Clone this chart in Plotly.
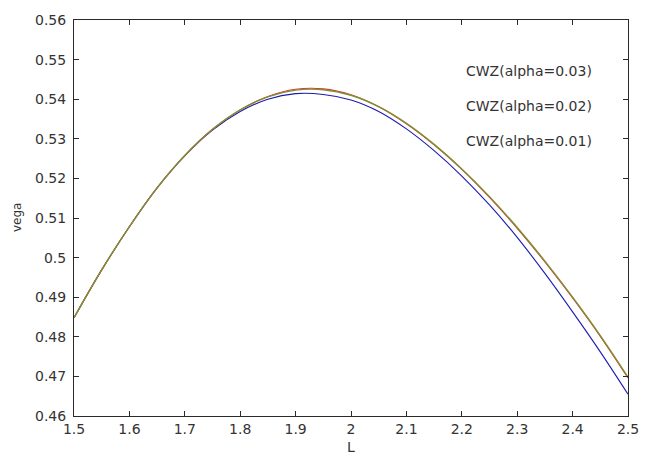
import plotly.graph_objects as go

# Data
L_vals = [1.50, 1.55, 1.60, 1.65, 1.70, 1.75, 1.80, 1.85, 1.90, 1.95, 2.00,
          2.05, 2.10, 2.15, 2.20, 2.25, 2.30, 2.35, 2.40, 2.45, 2.50]

vega_alpha_001 = [0.4848, 0.4969, 0.5078, 0.5176, 0.5257, 0.5322, 0.5369, 0.5400,
                  0.5414, 0.5412, 0.5398, 0.5369, 0.5325, 0.5270, 0.5206, 0.5133,
                  0.5051, 0.4960, 0.4863, 0.4762, 0.4655]
vega_alpha_002 = [0.4848, 0.4969, 0.5078, 0.5176, 0.5258, 0.5324, 0.5373, 0.5407,
                  0.5425, 0.5426, 0.5411, 0.5381, 0.5338, 0.5285, 0.5223, 0.5152,
                  0.5074, 0.4989, 0.4898, 0.4801, 0.4696]
vega_alpha_003 = [0.4848, 0.4969, 0.5078, 0.5176, 0.5258, 0.5324, 0.5373, 0.5406,
                  0.5423, 0.5424, 0.5410, 0.5381, 0.5339, 0.5286, 0.5224, 0.5154,
                  0.5076, 0.4991, 0.4900, 0.4803, 0.4698]

labels = ["CWZ(alpha=0.03)", "CWZ(alpha=0.02)", "CWZ(alpha=0.01)"]
x_ticks = [1.5, 1.6, 1.7, 1.8, 1.9, 2.0, 2.1, 2.2, 2.3, 2.4, 2.5]
x_tick_text = ["1.5", "1.6", "1.7", "1.8", "1.9", "2", "2.1", "2.2", "2.3", "2.4", "2.5"]
y_ticks = [0.46, 0.47, 0.48, 0.49, 0.50, 0.51, 0.52, 0.53, 0.54, 0.55, 0.56]
y_tick_text = ["0.46", "0.47", "0.48", "0.49", "0.5", "0.51", "0.52", "0.53", "0.54", "0.55", "0.56"]

FONT = "DejaVu Sans, Arial, sans-serif"
AX = "#2a2a2a"

fig = go.Figure()
fig.add_trace(go.Scatter(x=L_vals, y=vega_alpha_001, mode="lines", name=labels[2],
                         line=dict(color="#1a1ab4", width=1.1, shape="spline")))
fig.add_trace(go.Scatter(x=L_vals, y=vega_alpha_002, mode="lines", name=labels[1],
                         line=dict(color="#e0303a", width=1.1, shape="spline")))
fig.add_trace(go.Scatter(x=L_vals, y=vega_alpha_003, mode="lines", name=labels[0],
                         line=dict(color="#7f9030", width=1.4, shape="spline")))

axis_common = dict(showgrid=False, zeroline=False, showline=True, linecolor=AX,
                   linewidth=1, mirror="ticks", ticks="inside", ticklen=5,
                   tickcolor=AX, tickwidth=1,
                   tickfont=dict(family=FONT, size=14, color="#333333"))

fig.update_layout(
    width=651, height=460,
    margin=dict(l=74, r=14, t=14, b=44),
    paper_bgcolor="white", plot_bgcolor="white",
    showlegend=False,
    xaxis=dict(range=[1.5, 2.5], tickvals=x_ticks, ticktext=x_tick_text, **axis_common),
    yaxis=dict(range=[0.46, 0.56], tickvals=y_ticks, ticktext=y_tick_text,
               ticklabelstandoff=4, **axis_common),
)

# axis titles
fig.add_annotation(text="L", xref="paper", yref="paper", x=0.5, y=0, yshift=-31,
                   showarrow=False, xanchor="center", yanchor="middle",
                   font=dict(family=FONT, size=14, color="#333333"))
fig.add_annotation(text="vega", xref="paper", yref="paper", x=0, y=0.5, xshift=-57,
                   textangle=-90, showarrow=False, xanchor="center", yanchor="middle",
                   font=dict(family=FONT, size=12, color="#333333"))

# label texts (legend-like text without samples)
label_y = [0.5471, 0.5384, 0.5294]
for txt, yv in zip(labels, label_y):
    fig.add_annotation(text=txt, xref="x", yref="y", x=2.322, y=yv,
                       showarrow=False, xanchor="center", yanchor="middle",
                       font=dict(family=FONT, size=14, color="#333333"))

fig.write_html("out.html")
